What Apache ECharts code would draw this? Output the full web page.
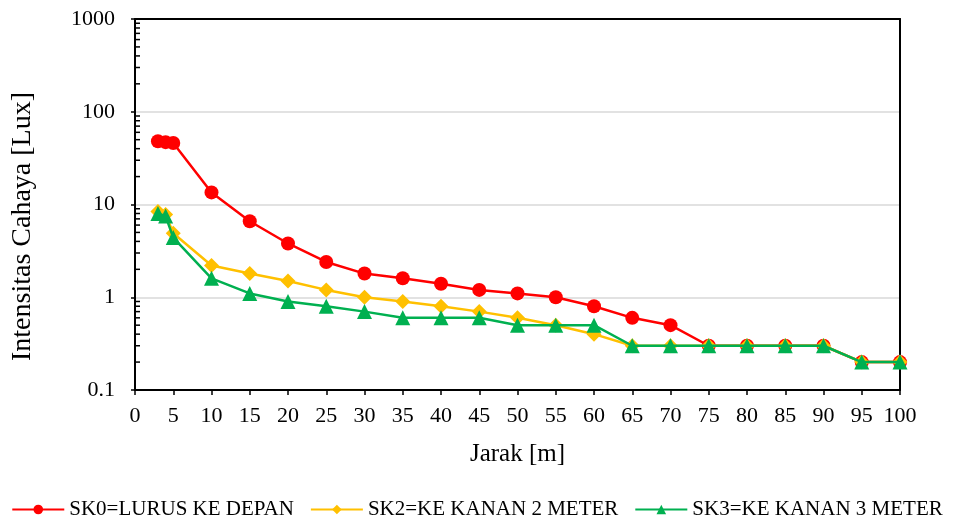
<!DOCTYPE html>
<html>
<head>
<meta charset="utf-8">
<script src="https://cdn.jsdelivr.net/npm/echarts@6/dist/echarts.min.js"></script>
<style>
  * { margin: 0; padding: 0; }
  body { background: #fff; }
</style>
</head>
<body>
<div id="chart" style="width:954px;height:520px;"></div>
<script>
// jarak (m)
const jarak = [3, 4, 5, 10, 15, 20, 25, 30, 35, 40, 45, 50, 55, 60, 65, 70, 75, 80, 85, 90, 95, 100];
// intensitas cahaya (lux)
const sk0 = [48, 47, 46, 13.5, 6.6, 3.8, 2.4, 1.8, 1.6, 1.4, 1.2, 1.1, 1.0, 0.8, 0.6, 0.5, 0.3, 0.3, 0.3, 0.3, 0.2, 0.2];
const sk2 = [8.4, 7.8, 4.9, 2.2, 1.8, 1.5, 1.2, 1.0, 0.9, 0.8, 0.7, 0.6, 0.5, 0.4, 0.3, 0.3, 0.3, 0.3, 0.3, 0.3, 0.2, 0.2];
const sk3 = [8.0, 7.5, 4.4, 1.6, 1.1, 0.9, 0.8, 0.7, 0.6, 0.6, 0.6, 0.5, 0.5, 0.5, 0.3, 0.3, 0.3, 0.3, 0.3, 0.3, 0.2, 0.2];
const names = ['SK0=LURUS KE DEPAN', 'SK2=KE KANAN 2 METER', 'SK3=KE KANAN 3 METER'];
// minor ticks sumbu y (2..9 tiap dekade)
const minorTicks = [];
[0.1, 1, 10, 100].forEach(function (d) {
    for (let k = 2; k <= 9; k++) minorTicks.push([0, +(d * k).toPrecision(3)]);
});

const font = 'Liberation Serif, Times New Roman, serif';
const pair = arr => jarak.map((x, i) => [x, arr[i]]);

let myChart = echarts.init(document.getElementById('chart'));
let option = {
    animation: false,
    textStyle: { fontFamily: font },
    grid: { left: 135, right: 54, top: 19, bottom: 130 },
    legend: {
        data: names,
        top: 494,
        left: 'center',
        itemWidth: 52,
        itemHeight: 12,
        itemGap: 16,
        textStyle: { fontFamily: font, fontSize: 21, color: '#000' }
    },
    xAxis: [
        {
            type: 'value',
            min: 0, max: 100, interval: 5,
            name: 'Jarak [m]',
            nameLocation: 'middle',
            nameGap: 52,
            nameTextStyle: { fontFamily: font, fontSize: 25, color: '#000' },
            axisLine: { lineStyle: { color: '#000', width: 2 } },
            axisTick: { show: true, length: 5, lineStyle: { color: '#000', width: 1.5 } },
            axisLabel: { fontFamily: font, fontSize: 22, color: '#000', margin: 15 },
            splitLine: { show: false }
        },
        {
            type: 'value', position: 'top',
            min: 0, max: 100,
            axisLine: { show: true, onZero: false, lineStyle: { color: '#000', width: 2 } },
            axisTick: { show: false },
            axisLabel: { show: false },
            splitLine: { show: false }
        }
    ],
    yAxis: [
        {
            type: 'log',
            logBase: 10,
            min: 0.1, max: 1000,
            name: 'Intensitas Cahaya [Lux]',
            nameLocation: 'middle',
            nameGap: 98,
            nameTextStyle: { fontFamily: font, fontSize: 28, color: '#000', padding: [0, 44, 0, 0] },
            axisLine: { show: true, lineStyle: { color: '#000', width: 2 } },
            axisTick: { show: true, length: 4, lineStyle: { color: '#000', width: 1.5 } },
            axisLabel: { fontFamily: font, fontSize: 22, color: '#000', margin: 20,
                formatter: v => String(+v.toPrecision(3)) },
            splitLine: { show: true, lineStyle: { color: '#d9d9d9', width: 1.5 } }
        },
        {
            type: 'log', logBase: 10, position: 'right',
            min: 0.1, max: 1000,
            axisLine: { show: true, onZero: false, lineStyle: { color: '#000', width: 2 } },
            axisTick: { show: false },
            axisLabel: { show: false },
            splitLine: { show: false }
        }
    ],
    series: [
        {
            name: 'minor', type: 'custom', silent: true, clip: false, z: 1,
            data: minorTicks,
            renderItem: function (params, api) {
                const p = api.coord([api.value(0), api.value(1)]);
                return {
                    type: 'line',
                    shape: { x1: p[0], y1: p[1], x2: p[0] + 5, y2: p[1] },
                    style: { stroke: '#000', lineWidth: 1.5 }
                };
            }
        },
        {
            name: names[0], type: 'line', data: pair(sk0),
            symbol: 'circle', symbolSize: 14,
            itemStyle: { color: '#ff0000' },
            lineStyle: { color: '#ff0000', width: 2.5 },
            z: 3
        },
        {
            name: names[1], type: 'line', data: pair(sk2),
            symbol: 'diamond', symbolSize: 15,
            itemStyle: { color: '#ffc000' },
            lineStyle: { color: '#ffc000', width: 2.5 },
            z: 4
        },
        {
            name: names[2], type: 'line', data: pair(sk3),
            symbol: 'triangle', symbolSize: 15,
            itemStyle: { color: '#00b050' },
            lineStyle: { color: '#00b050', width: 2.5 },
            z: 5
        }
    ]
};
myChart.setOption(option);
</script>
</body>
</html>
